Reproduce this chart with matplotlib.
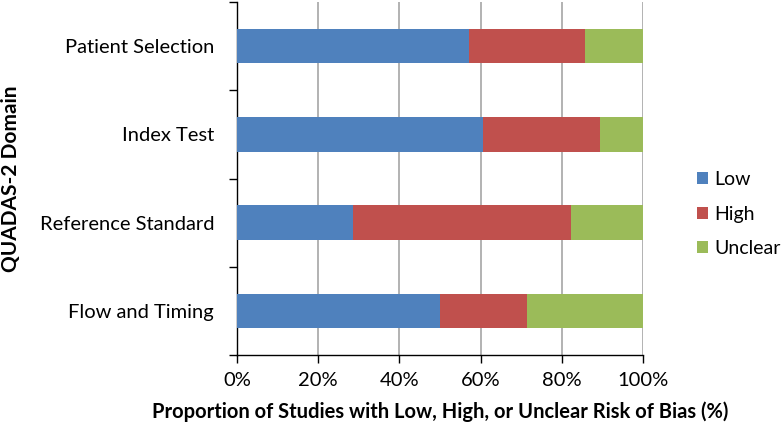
import numpy as np
import matplotlib.pyplot as plt
from matplotlib.ticker import PercentFormatter

plt.rcParams['font.family'] = ['Lato', 'DejaVu Sans']

domains = ["Patient Selection", "Index Test", "Reference Standard", "Flow and Timing"]
low = [57.1, 60.7, 28.6, 50.0]
high = [28.6, 28.6, 53.6, 21.4]
unclear = [14.3, 10.7, 17.8, 28.6]

series = [("Low", low, "#4F81BD"), ("High", high, "#C0504D"), ("Unclear", unclear, "#9BBB59")]

W, H = 784, 424
fig = plt.figure(figsize=(W / 100, H / 100), dpi=100)
ax = fig.add_axes([237 / W, 1 - 355 / H, (643 - 237) / W, 353 / H])

y = np.arange(len(domains))
left = np.zeros(len(domains))
for name, vals, col in series:
    ax.barh(y, vals, left=left, height=0.39, color=col, label=name, zorder=3)
    left += np.array(vals)

ax.set_xlim(0, 100)
ax.set_ylim(len(domains) - 0.5, -0.5)
ax.set_xticks(np.arange(0, 101, 20))
ax.xaxis.set_major_formatter(PercentFormatter(decimals=0))
ax.set_yticks(y)
ax.set_yticklabels(domains)
ax.set_yticks(np.arange(-0.5, len(domains), 1), minor=True)
ax.tick_params(axis='y', which='major', length=0, pad=16.5, labelsize=14.5)
ax.tick_params(axis='y', which='minor', length=6, width=1)
ax.tick_params(axis='x', length=6, width=1, labelsize=14.5, pad=6)
ax.grid(axis='x', color='#A6A6A6', linewidth=1.2, zorder=0)
for s in ['top', 'right']:
    ax.spines[s].set_visible(False)
ax.spines['left'].set_linewidth(1)
ax.spines['bottom'].set_linewidth(1)

ax.set_xlabel("Proportion of Studies with Low, High, or Unclear Risk of Bias (%)",
              fontsize=14.5, fontweight='bold', va='center')
ax.xaxis.set_label_coords(0.5, (355 - 412) / 353)
ax.set_ylabel("QUADAS-2 Domain", fontsize=15, fontweight='bold', va='center')
ax.yaxis.set_label_coords((11 - 237) / 406, 0.5)

ax.legend(loc='center left', bbox_to_anchor=(697 / W, 1 - 214 / H), bbox_transform=fig.transFigure,
          frameon=False, fontsize=14, borderpad=0, borderaxespad=0,
          handlelength=0.57, handleheight=0.57, handletextpad=0.3, labelspacing=0.9)

fig.savefig("out.png", dpi=100)
